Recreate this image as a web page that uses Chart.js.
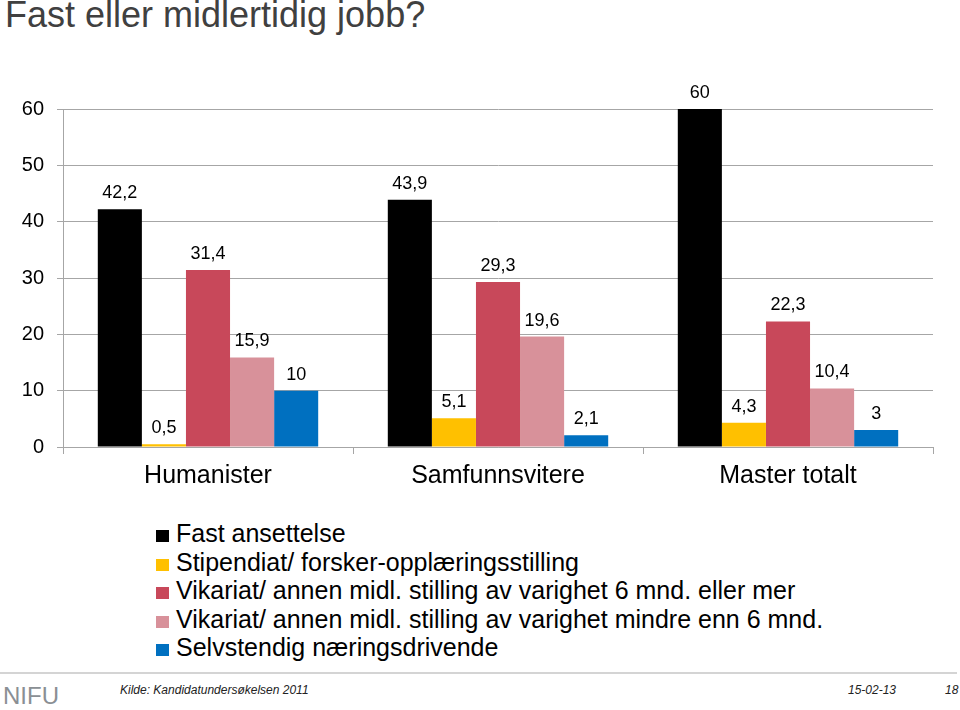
<!DOCTYPE html>
<html lang="no">
<head>
    <meta charset="UTF-8">
    <title>Fast eller midlertidig jobb?</title>
    <script src="https://cdn.jsdelivr.net/npm/chart.js"></script>
    <style>
        body { margin: 0; width: 960px; height: 710px; position: relative; overflow: hidden; background: #fff;
               font-family: "Liberation Sans", Arial, sans-serif; }
        #title { position: absolute; left: 5px; top: -3px; font-size: 36px; line-height: 36px; color: #404040; white-space: nowrap; }
        #chart { position: absolute; left: 0; top: 80px; }
        #legend { position: absolute; left: 156px; top: 519px; }
        #legend div { height: 28.5px; line-height: 28.5px; font-size: 25px; color: #000; white-space: nowrap; }
        #legend span { display: inline-block; width: 13px; height: 12px; margin-right: 7px; vertical-align: 0px; }
        #rule { position: absolute; left: 0; top: 672px; width: 957px; height: 2px; background: #d4d4d4; }
        #nifu { position: absolute; left: 3px; top: 683px; font-size: 24px; line-height: 26px; color: #8a8f94; }
        .foot { position: absolute; top: 683px; font-size: 12px; line-height: 14px; font-style: italic; color: #222; }
    </style>
</head>
<body>
    <div id="title">Fast eller midlertidig jobb?</div>
    <canvas id="chart" width="960" height="420"></canvas>
    <div id="legend"></div>
    <div id="rule"></div>
    <div id="nifu">NIFU</div>
    <div class="foot" style="left:120px">Kilde: Kandidatundersøkelsen 2011</div>
    <div class="foot" style="left:848px">15-02-13</div>
    <div class="foot" style="left:945px">18</div>

    <script>
        // data
        const categories = ['Humanister', 'Samfunnsvitere', 'Master totalt'];
        const seriesNames = [
            'Fast ansettelse',
            'Stipendiat/ forsker-opplæringsstilling',
            'Vikariat/ annen midl. stilling av varighet 6 mnd. eller mer',
            'Vikariat/ annen midl. stilling av varighet mindre enn 6 mnd.',
            'Selvstendig næringsdrivende'
        ];
        const fast = [42.2, 43.9, 60];
        const stipendiat = [0.5, 5.1, 4.3];
        const vikariatLang = [31.4, 29.3, 22.3];
        const vikariatKort = [15.9, 19.6, 10.4];
        const selvstendig = [10, 2.1, 3];
        const yTicks = [0, 10, 20, 30, 40, 50, 60];

        const colors = ['#000000', '#FFC000', '#C8485A', '#D8919A', '#0070C0'];
        const values = [fast, stipendiat, vikariatLang, vikariatKort, selvstendig];

        // legend as a column under the chart
        const legend = document.getElementById('legend');
        seriesNames.forEach(function(name, i) {
            const row = document.createElement('div');
            row.innerHTML = '<span style="background:' + colors[i] + '"></span>' + name;
            legend.appendChild(row);
        });

        // value labels above each bar, decimal comma
        const barLabels = {
            id: 'barLabels',
            afterDatasetsDraw(chart) {
                const ctx = chart.ctx;
                ctx.save();
                ctx.font = '18px "Liberation Sans", Arial, sans-serif';
                ctx.fillStyle = '#000';
                ctx.textAlign = 'center';
                ctx.textBaseline = 'alphabetic';
                chart.data.datasets.forEach(function(ds, i) {
                    chart.getDatasetMeta(i).data.forEach(function(bar, j) {
                        ctx.fillText(String(ds.data[j]).replace('.', ','), bar.x, bar.y - 11);
                    });
                });
                ctx.restore();
            }
        };

        Chart.defaults.font.family = '"Liberation Sans", Arial, sans-serif';
        Chart.defaults.color = '#000';

        new Chart(document.getElementById('chart'), {
            type: 'bar',
            data: {
                labels: categories,
                datasets: seriesNames.map(function(name, i) {
                    return {
                        label: name,
                        data: values[i],
                        backgroundColor: colors[i],
                        barPercentage: 1,
                        categoryPercentage: 0.76
                    };
                })
            },
            options: {
                responsive: false,
                animation: false,
                layout: { padding: { top: 29, right: 27, left: 0, bottom: 0 } },
                plugins: { legend: { display: false }, tooltip: { enabled: false } },
                scales: {
                    x: {
                        afterFit: function(scale) { scale.height = 53; },
                        grid: { drawOnChartArea: false, tickLength: 7, color: '#A6A6A6' },
                        border: { color: '#A6A6A6' },
                        ticks: { font: { size: 25 }, padding: 7, color: '#000' }
                    },
                    y: {
                        min: 0,
                        max: 60,
                        afterFit: function(scale) { scale.width = 63; },
                        afterBuildTicks: function(scale) { scale.ticks = yTicks.map(function(v) { return { value: v }; }); },
                        grid: { color: '#A6A6A6', tickLength: 6 },
                        border: { color: '#A6A6A6' },
                        ticks: { font: { size: 20 }, padding: 13, color: '#000' }
                    }
                }
            },
            plugins: [barLabels]
        });
    </script>
</body>
</html>
